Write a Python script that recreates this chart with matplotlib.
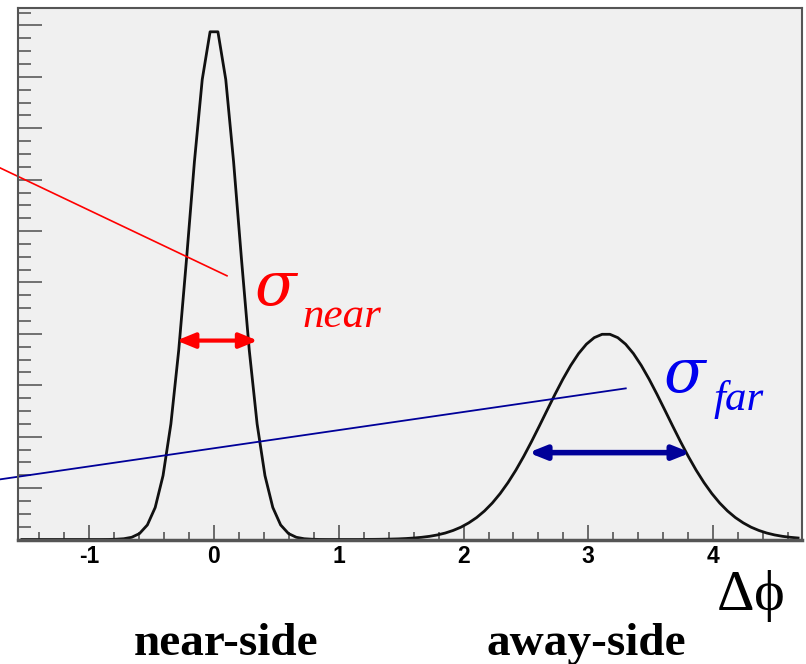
import numpy as np
import matplotlib
matplotlib.use("Agg")
from matplotlib import pyplot as plt

plt.rcParams["axes.unicode_minus"] = False
plt.rcParams["mathtext.fontset"] = "custom"
plt.rcParams["mathtext.rm"] = "Liberation Serif"
plt.rcParams["mathtext.it"] = "Liberation Serif:italic"

# correlation function, 100 bins on [-pi/2, 3pi/2]
n_bins = 100
counts = [
    0.0, 0.0, 0.0, 0.0, 0.0, 0.0, 0.0, 0.0, 0.0, 0.0,
    0.0, 0.001, 0.005, 0.015, 0.043, 0.116, 0.283, 0.623, 1.243, 2.247,
    3.681, 5.463, 7.346, 8.949, 9.877, 9.877, 8.949, 7.346, 5.463, 3.681,
    2.247, 1.243, 0.623, 0.283, 0.116, 0.043, 0.015, 0.005, 0.001, 0.0,
    0.0, 0.0, 0.0, 0.0, 0.002, 0.003, 0.005, 0.008, 0.012, 0.019,
    0.029, 0.043, 0.062, 0.089, 0.126, 0.176, 0.240, 0.324, 0.427, 0.555,
    0.710, 0.894, 1.107, 1.348, 1.616, 1.905, 2.209, 2.519, 2.826, 3.119,
    3.386, 3.617, 3.800, 3.927, 3.992, 3.992, 3.927, 3.800, 3.617, 3.386,
    3.119, 2.826, 2.519, 2.209, 1.905, 1.616, 1.348, 1.107, 0.894, 0.710,
    0.555, 0.427, 0.324, 0.240, 0.176, 0.126, 0.089, 0.062, 0.043, 0.029,
]
x_ticks = [-1, 0, 1, 2, 3, 4]
x_ticklabels = ["-1", "0", "1", "2", "3", "4"]

lo, hi = -np.pi / 2, 3 * np.pi / 2
edges = np.linspace(lo, hi, n_bins + 1)
centres = 0.5 * (edges[1:] + edges[:-1])

fig = plt.figure(figsize=(8.06, 6.64), dpi=100)
ax = fig.add_axes([18 / 806, 1 - 539.5 / 664, 784 / 806, 531.5 / 664])
ax.set_facecolor("#f0f0f0")

ax.plot(centres, counts, color="#111111", lw=2.0)

ax.set_xlim(lo, hi)
ax.set_ylim(0, 10.34)

# ROOT-like frame and ticks
for side in ["left", "top", "right"]:
    ax.spines[side].set_color("#555555")
    ax.spines[side].set_linewidth(1.5)
ax.spines["bottom"].set_color("#555555")
ax.spines["bottom"].set_linewidth(2.5)

ax.set_xticks(x_ticks)
ax.set_xticklabels(x_ticklabels, fontfamily="Liberation Sans",
                   fontweight="bold", fontsize=16.5)
ax.set_xticks(np.arange(-1.4, 4.7, 0.2), minor=True)
ax.set_yticks(np.arange(0, 10.1, 1))
ax.set_yticks(np.arange(0, 10.3, 0.25), minor=True)
ax.set_yticklabels([])
ax.tick_params(axis="x", which="major", direction="in", length=11, width=1.2,
               color="#555555", pad=4, top=False)
ax.tick_params(axis="x", which="minor", direction="in", length=5.5, width=1.2,
               color="#555555", top=False)
ax.tick_params(axis="y", which="major", direction="in", length=17, width=1.3,
               color="#666666", right=False)
ax.tick_params(axis="y", which="minor", direction="in", length=9, width=1.3,
               color="#666666", right=False)

# width markers
ax.annotate("", xy=(-0.30, 3.87), xytext=(0.35, 3.87),
            arrowprops=dict(arrowstyle="<|-|>,head_length=1.1,head_width=0.45",
                            color="#ff0000", lw=3, shrinkA=0, shrinkB=0))
ax.annotate("", xy=(2.52, 1.69), xytext=(3.82, 1.69),
            arrowprops=dict(arrowstyle="<|-|>,head_length=1.0,head_width=0.4",
                            color="#000099", lw=4, shrinkA=0, shrinkB=0))

# leader lines coming in from the left
ax.plot([-1.715, 0.104], [7.23, 5.13], color="#ff0000", lw=1.2, clip_on=False)
ax.plot([-1.715, 3.30], [1.17, 2.94], color="#000099", lw=1.3, clip_on=False)

serif = ["Liberation Serif", "DejaVu Serif"]
greek = ["DejaVu Serif"]
ax.text(0.32, 4.56, "σ", color="#ff0000", fontsize=44, style="italic",
        family=greek, ha="left", va="baseline")
ax.text(0.71, 4.13, "near", color="#ff0000", fontsize=31, style="italic",
        family=serif, ha="left", va="baseline")
ax.text(3.60, 2.87, "σ", color="#0000ee", fontsize=44, style="italic",
        family=greek, ha="left", va="baseline")
ax.text(4.0, 2.52, "far", color="#0000ee", fontsize=31, style="italic",
        family=serif, ha="left", va="baseline")

ax.text(4.02, -1.38, r"$\mathrm{\Delta\phi}$", fontsize=42, ha="left",
        va="baseline", clip_on=False)
ax.text(0.10, -2.25, "near-side", fontsize=34, fontweight="bold", family=serif,
        ha="center", va="baseline", clip_on=False)
ax.text(2.98, -2.25, "away-side", fontsize=34, fontweight="bold", family=serif,
        ha="center", va="baseline", clip_on=False)

fig.savefig("out.png", dpi=100)
